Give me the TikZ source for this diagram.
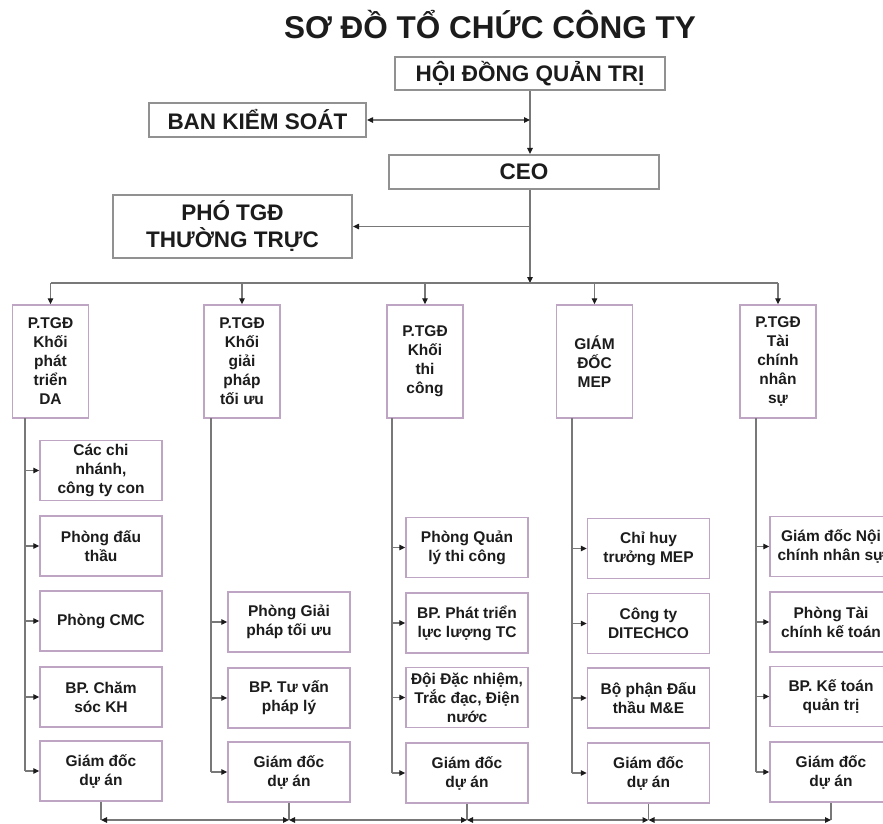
\documentclass[tikz,border=0pt]{standalone}
\usepackage{fontspec}
\setmainfont{Liberation Sans}
\usetikzlibrary{arrows.meta}
\definecolor{linec}{RGB}{120,120,120}
\definecolor{topb}{RGB}{145,145,145}
\definecolor{subb}{RGB}{190,165,195}
\definecolor{txt}{RGB}{28,28,28}
\tikzset{
  topbox/.style={draw=topb, line width=2.2pt, fill=white, text=txt, inner sep=0pt, align=center,
    font=\fontsize{22.5}{27}\selectfont\bfseries},
  headbox/.style={draw=subb, line width=1.5pt, fill=white, minimum width=76pt, minimum height=113pt,
    inner sep=0pt, align=center, text=txt, font=\fontsize{15.5}{19}\selectfont\bfseries},
  subbox/.style={draw=subb, line width=1.5pt, fill=white, minimum width=122pt, minimum height=60pt,
    inner sep=0pt, align=center, text=txt, font=\fontsize{15.5}{19}\selectfont\bfseries},
  conn/.style={draw=linec, line width=1.2pt},
  tipa/.tip={Triangle[length=6pt,width=5.5pt,color=txt]},
  arr/.style={conn, -tipa},
  darr/.style={conn, tipa-tipa},
}
\begin{document}
\begin{tikzpicture}[x=1pt,y=-1pt]
\useasboundingbox (0,0) rectangle (883,823);
\clip (0,0) rectangle (883,823);
\fill[white] (0,0) rectangle (883,823);

\node[text=txt, font=\fontsize{31.5}{36}\selectfont\bfseries] (title) at (490,25) {SƠ ĐỒ TỔ CHỨC CÔNG TY};

\node[topbox, minimum width=270pt, minimum height=33pt] (hdqt) at (530,73.5) {HỘI ĐỒNG QUẢN TRỊ};
\node[topbox, minimum width=217pt, minimum height=34pt] (bks) at (257.5,120) {BAN KIỂM SOÁT};
\node[topbox, minimum width=270pt, minimum height=34pt] (ceo) at (524,172) {CEO};
\node[topbox, minimum width=239pt, minimum height=63pt] (pho) at (232.5,226.5) {PHÓ TGĐ\\THƯỜNG TRỰC};

\coordinate (bus) at (0,283);
\coordinate (bot) at (0,820);

% column heads
\node[headbox] (h1) at (50.5,361.5) {P.TGĐ\\Khối\\phát\\triển\\DA};
\node[headbox] (h2) at (242,361.5) {P.TGĐ\\Khối\\giải\\pháp\\tối ưu};
\node[headbox] (h3) at (425,361.5) {P.TGĐ\\Khối\\thi\\công};
\node[headbox] (h4) at (594.5,361.5) {GIÁM\\ĐỐC\\MEP};
\node[headbox] (h5) at (778,361.5) {P.TGĐ\\Tài\\chính\\nhân\\sự};

% column 1
\node[subbox] (s11) at (101,470.5) {Các chi\\nhánh,\\công ty con};
\node[subbox] (s12) at (101,546) {Phòng đấu\\thầu};
\node[subbox] (s13) at (101,621) {Phòng CMC};
\node[subbox] (s14) at (101,697) {BP. Chăm\\sóc KH};
\node[subbox] (s15) at (101,771) {Giám đốc\\dự án};
% column 2
\node[subbox] (s21) at (289,622) {Phòng Giải\\pháp tối ưu};
\node[subbox] (s22) at (289,698) {BP. Tư vấn\\pháp lý};
\node[subbox] (s23) at (289,772) {Giám đốc\\dự án};
% column 3
\node[subbox] (s31) at (467,547.5) {Phòng Quản\\lý thi công};
\node[subbox] (s32) at (467,623) {BP. Phát triển\\lực lượng TC};
\node[subbox] (s33) at (467,697.5) {Đội Đặc nhiệm,\\Trắc đạc, Điện\\nước};
\node[subbox] (s34) at (467,773) {Giám đốc\\dự án};
% column 4
\node[subbox] (s41) at (648.5,548.5) {Chỉ huy\\trưởng MEP};
\node[subbox] (s42) at (648.5,623.5) {Công ty\\DITECHCO};
\node[subbox] (s43) at (648.5,698) {Bộ phận Đấu\\thầu M\&E};
\node[subbox] (s44) at (648.5,773) {Giám đốc\\dự án};
% column 5
\node[subbox] (s51) at (831,546.5) {Giám đốc Nội\\chính nhân sự};
\node[subbox] (s52) at (831,622) {Phòng Tài\\chính kế toán};
\node[subbox] (s53) at (831,696.5) {BP. Kế toán\\quản trị};
\node[subbox] (s54) at (831,772) {Giám đốc\\dự án};

% top connectors
\draw[arr] (hdqt.south) -- (hdqt.south |- ceo.north);
\draw[darr] (bks.east) -- (bks.east -| hdqt.south);
\draw[arr] (hdqt.south |- pho.east) -- (pho.east);
\draw[arr] (hdqt.south |- ceo.south) -- (hdqt.south |- bus);
\draw[conn] (h1.north |- bus) -- (h5.north |- bus);
\foreach \h in {h1,h2,h3,h4,h5}{
  \draw[arr] (\h.north |- bus) -- (\h.north);
}

% trunks
\coordinate (k1) at (25,418);
\coordinate (k2) at (211,418);
\coordinate (k3) at (392,418);
\coordinate (k4) at (572,418);
\coordinate (k5) at (756,418);
\draw[conn] (k1) -- (k1 |- s15.west);
\draw[conn] (k2) -- (k2 |- s23.west);
\draw[conn] (k3) -- (k3 |- s34.west);
\draw[conn] (k4) -- (k4 |- s44.west);
\draw[conn] (k5) -- (k5 |- s54.west);
\foreach \s in {s11,s12,s13,s14,s15}{\draw[arr] (k1 |- \s.west) -- (\s.west);}
\foreach \s in {s21,s22,s23}{\draw[arr] (k2 |- \s.west) -- (\s.west);}
\foreach \s in {s31,s32,s33,s34}{\draw[arr] (k3 |- \s.west) -- (\s.west);}
\foreach \s in {s41,s42,s43,s44}{\draw[arr] (k4 |- \s.west) -- (\s.west);}
\foreach \s in {s51,s52,s53,s54}{\draw[arr] (k5 |- \s.west) -- (\s.west);}

% bottom links between project directors
\foreach \s in {s15,s23,s34,s44,s54}{\draw[conn] (\s.south) -- (\s.south |- bot);}
\draw[darr] (s15.south |- bot) -- (s23.south |- bot);
\draw[darr] (s23.south |- bot) -- (s34.south |- bot);
\draw[darr] (s34.south |- bot) -- (s44.south |- bot);
\draw[darr] (s44.south |- bot) -- (s54.south |- bot);
\end{tikzpicture}
\end{document}
